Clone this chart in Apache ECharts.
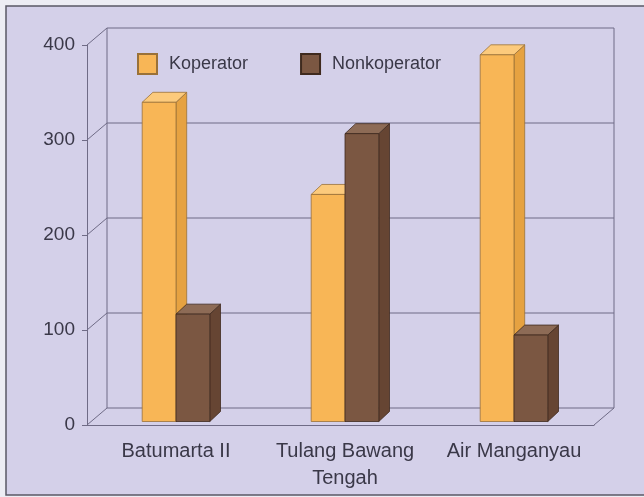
<!DOCTYPE html>
<html>
<head>
<meta charset="utf-8">
<script src="https://cdn.jsdelivr.net/npm/echarts@6/dist/echarts.min.js"></script>
<style>
  html, body { margin: 0; padding: 0; background: #ededf4; }
  #chart { width: 644px; height: 497px; }
</style>
</head>
<body>
<div id="chart"></div>
<script>
var categories = ["Batumarta II", "Tulang Bawang\nTengah", "Air Manganyau"];
var koperator = [336, 239, 386];
var nonkoperator = [113, 303, 91];
var yTicks = [0, 100, 200, 300, 400];

// 3d look: wall offset, bar depth, bar shift from the front plane
var WALL = [20, -17];
var DEPTH = [10.7, -10];
var SHIFT = [4.5, -3.5];

var colors = {
  kop: { front: "#f8b656", side: "#e6a241", top: "#fcca7c", edge: "#9a7138" },
  non: { front: "#7b5742", side: "#664533", top: "#8d6b56", edge: "#3f2a1e" }
};

function barRender(idx, c) {
  return function (params, api) {
    var top = api.coord([api.value(0), api.value(1)]);
    var base = api.coord([api.value(0), 0]);
    var bw = api.size([1, 0])[0] * 0.2;
    var x0 = top[0] - bw + idx * bw + SHIFT[0];
    var x1 = x0 + bw;
    var yt = top[1] + SHIFT[1];
    var yb = base[1] + SHIFT[1];
    var dx = DEPTH[0], dy = DEPTH[1];
    var line = { stroke: c.edge, lineWidth: 0.8 };
    return {
      type: "group",
      children: [
        { type: "polygon", shape: { points: [[x1, yt], [x1 + dx, yt + dy], [x1 + dx, yb + dy], [x1, yb]] },
          style: Object.assign({ fill: c.side }, line) },
        { type: "polygon", shape: { points: [[x0, yt], [x0 + dx, yt + dy], [x1 + dx, yt + dy], [x1, yt]] },
          style: Object.assign({ fill: c.top }, line) },
        { type: "rect", shape: { x: x0, y: yt, width: bw, height: yb - yt },
          style: Object.assign({ fill: c.front }, line) }
      ]
    };
  };
}

// back wall lines, one item per y tick
function wallRender(params, api) {
  var cs = params.coordSys;
  var y = api.coord([0, api.value(1)])[1];
  var left = cs.x, right = cs.x + cs.width;
  var st = { stroke: "#6f6b86", lineWidth: 1, fill: null };
  var kids = [
    { type: "polyline", shape: { points: [[left, y], [left + WALL[0], y + WALL[1]], [right + WALL[0], y + WALL[1]]] }, style: st }
  ];
  if (params.dataIndex === 0) {
    var yTop = cs.y + WALL[1];
    kids.push(
      { type: "line", shape: { x1: left + WALL[0], y1: yTop, x2: left + WALL[0], y2: y + WALL[1] }, style: st },
      { type: "line", shape: { x1: right + WALL[0], y1: yTop, x2: right + WALL[0], y2: y + WALL[1] }, style: st },
      { type: "line", shape: { x1: right, y1: y, x2: right + WALL[0], y2: y + WALL[1] }, style: st }
    );
  }
  return { type: "group", children: kids };
}

var chart = echarts.init(document.getElementById("chart"));
var option = {
  animation: false,
  backgroundColor: "transparent",
  graphic: [
    {
      type: "rect", z: -10, silent: true,
      shape: { x: 6, y: 6, width: 700, height: 489 },
      style: { fill: "#d4d0e9", stroke: "#5a5866", lineWidth: 1.5 }
    }
  ],
  legend: {
    data: ["Koperator", "Nonkoperator"],
    left: 137, top: 53, padding: 0,
    icon: "rect",
    itemWidth: 19, itemHeight: 20, itemGap: 52,
    textStyle: { fontFamily: "Liberation Sans", fontSize: 18, color: "#3a3848", padding: [0, 0, 0, 7] }
  },
  grid: { left: 87, top: 45, width: 507, height: 380, outerBoundsMode: "none" },
  xAxis: {
    type: "category",
    data: categories,
    axisLine: { lineStyle: { color: "#6f6b86", width: 1 } },
    axisTick: { length: 5, lineStyle: { color: "#6f6b86" } },
    axisLabel: {
      interval: 0,
      fontFamily: "Liberation Sans", fontSize: 20, color: "#3a3848",
      margin: 13, lineHeight: 27, padding: [0, 0, 0, 9]
    },
    splitLine: { show: false }
  },
  yAxis: {
    type: "value",
    min: 0, max: 400, interval: 100,
    axisLine: { show: true, lineStyle: { color: "#6f6b86", width: 1 } },
    axisTick: { show: true, length: 5, lineStyle: { color: "#6f6b86" } },
    axisLabel: { fontFamily: "Liberation Sans", fontSize: 19, color: "#3a3848", margin: 12 },
    splitLine: { show: false }
  },
  series: [
    {
      name: "wall", type: "custom", silent: true, z: 1,
      renderItem: wallRender,
      data: yTicks.map(function (v) { return [0, v]; })
    },
    {
      name: "Koperator", type: "custom", z: 2,
      itemStyle: { color: colors.kop.front, borderColor: colors.kop.edge, borderWidth: 1 },
      renderItem: barRender(0, colors.kop),
      encode: { x: 0, y: 1 },
      data: koperator.map(function (v, i) { return [i, v]; })
    },
    {
      name: "Nonkoperator", type: "custom", z: 3,
      itemStyle: { color: colors.non.front, borderColor: colors.non.edge, borderWidth: 1 },
      renderItem: barRender(1, colors.non),
      encode: { x: 0, y: 1 },
      data: nonkoperator.map(function (v, i) { return [i, v]; })
    }
  ]
};
chart.setOption(option);
</script>
</body>
</html>
